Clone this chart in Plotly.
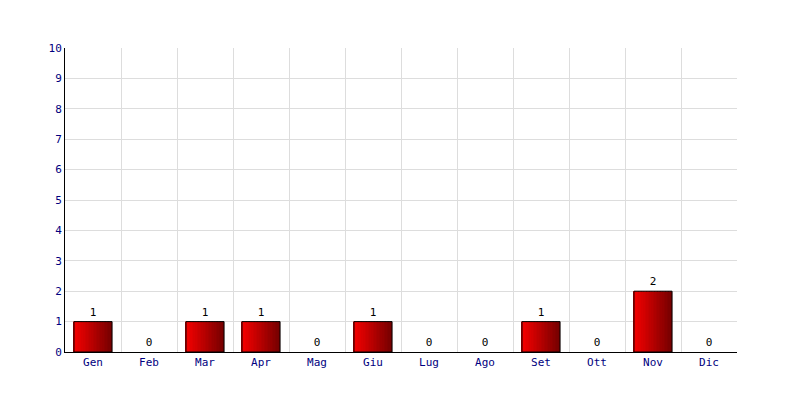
import plotly.graph_objects as go

months = ["Gen", "Feb", "Mar", "Apr", "Mag", "Giu", "Lug", "Ago", "Set", "Ott", "Nov", "Dic"]
values = [1, 0, 1, 1, 0, 1, 0, 0, 1, 0, 2, 0]

bar_width = 0.68
n_slices = 24
start_rgb = (245, 0, 0)
end_rgb = (120, 0, 0)

fig = go.Figure()
slice_w = bar_width / n_slices
for i in range(n_slices):
    t = i / (n_slices - 1)
    r = int(start_rgb[0] + (end_rgb[0] - start_rgb[0]) * t)
    g = int(start_rgb[1] + (end_rgb[1] - start_rgb[1]) * t)
    b = int(start_rgb[2] + (end_rgb[2] - start_rgb[2]) * t)
    fig.add_trace(go.Bar(
        x=months, y=values,
        width=slice_w * 1.05, offset=-bar_width / 2 + i * slice_w,
        marker=dict(color=f"rgb({r},{g},{b})", line=dict(width=0)),
        hoverinfo="skip", showlegend=False,
    ))

fig.add_trace(go.Bar(
    x=months, y=values,
    width=bar_width, offset=-bar_width / 2,
    marker=dict(color="rgba(0,0,0,0)",
                line=dict(color="black", width=[1 if v > 0 else 0 for v in values])),
    text=[str(v) for v in values], textposition="outside",
    textfont=dict(family="DejaVu Sans Mono", size=11, color="black"),
    cliponaxis=False, showlegend=False,
))

fig.update_layout(
    width=792, height=392,
    margin=dict(l=57, r=63, t=40, b=48),
    paper_bgcolor="white", plot_bgcolor="white",
    barmode="overlay",
    font=dict(family="DejaVu Sans Mono", size=11, color="#000080"),
    xaxis=dict(
        type="category", tickson="boundaries", showgrid=True, gridcolor="#dddddd",
        showline=True, linecolor="black", linewidth=1, ticks="",
        tickfont=dict(color="#000080", size=11), automargin=False,
    ),
    yaxis=dict(
        range=[0, 10], dtick=1, showgrid=True, gridcolor="#dddddd",
        showline=True, linecolor="black", linewidth=1, ticks="", zeroline=False,
        tickfont=dict(color="#000080", size=11), automargin=False,
    ),
)

fig.write_html("out.html")
